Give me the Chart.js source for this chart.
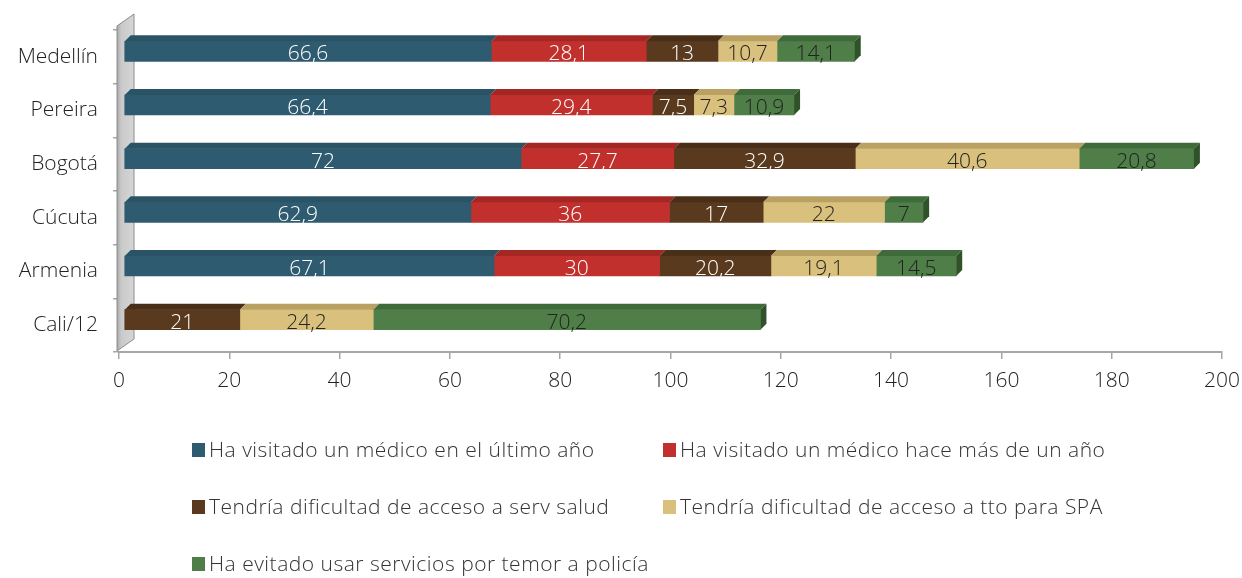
<!DOCTYPE html>
<html>
<head>
<meta charset="utf-8">
<script src="https://cdn.jsdelivr.net/npm/chart.js@4/dist/chart.umd.min.js"></script>
<style>
  body { margin: 0; background: #fff; }
  #grafico { display: block; }
</style>
</head>
<body>
<canvas id="grafico" width="1242" height="578"></canvas>
<script>
// ========== data ==========
const ciudades = ['Medellín', 'Pereira', 'Bogotá', 'Cúcuta', 'Armenia', 'Cali/12']
const series = [
  'Ha visitado un médico en el último año',
  'Ha visitado un médico hace más de un año',
  'Tendría dificultad de acceso a serv salud',
  'Tendría dificultad de acceso a tto para SPA',
  'Ha evitado usar servicios por temor a policía'
]
const medicoUltimoAnio = [66.6, 66.4, 72, 62.9, 67.1, null]
const medicoMasDeUnAnio = [28.1, 29.4, 27.7, 36, 30, null]
const dificultadSalud = [13, 7.5, 32.9, 17, 20.2, 21]
const dificultadSPA = [10.7, 7.3, 40.6, 22, 19.1, 24.2]
const temorPolicia = [14.1, 10.9, 20.8, 7, 14.5, 70.2]
const ejeX = { min: 0, max: 200, paso: 20 }

// front / top / side shades and label colour for each series
const estilos = [
  { frente: '#2e5b6f', arriba: '#2a5466', lado: '#224656', texto: '#ffffff' },
  { frente: '#c1302d', arriba: '#a52724', lado: '#8a1f1d', texto: '#ffffff' },
  { frente: '#5a3a1e', arriba: '#4a2f18', lado: '#3c2613', texto: '#ffffff' },
  { frente: '#d9c07c', arriba: '#b9a164', lado: '#9e8852', texto: '#222222' },
  { frente: '#4f7e48', arriba: '#3f6a39', lado: '#2f5229', texto: '#222222' }
]
const valores = [medicoUltimoAnio, medicoMasDeUnAnio, dificultadSalud, dificultadSPA, temorPolicia]

const FUENTE = '"Open Sans", Lato, sans-serif'
const TAM = 21
const PROF = 6          // bar depth in px
const DESPL = { x: 5, y: -5.5 }  // bars sit half way into the 3d floor

function formato(v) {
  return String(v).replace('.', ',')
}

// ========== 3d wall behind the category axis ==========
const pared = {
  id: 'pared',
  beforeDatasetsDraw(chart) {
    const { ctx, chartArea } = chart
    const l = chartArea.left - 2, t = chartArea.top, b = chartArea.bottom
    ctx.save()
    const g = ctx.createLinearGradient(l, 0, l + 17, 0)
    g.addColorStop(0, '#a9a9a9')
    g.addColorStop(0.25, '#c9c9c9')
    g.addColorStop(1, '#d6d6d6')
    ctx.beginPath()
    ctx.moveTo(l, t - 4)
    ctx.lineTo(l + 17, t - 16)
    ctx.lineTo(l + 17, b - 13)
    ctx.lineTo(l, b - 1)
    ctx.closePath()
    ctx.fillStyle = g
    ctx.fill()
    ctx.strokeStyle = '#8c8c8c'
    ctx.lineWidth = 1
    ctx.stroke()
    ctx.restore()
    // shift the bar layer for the depth effect
    ctx.save()
    ctx.translate(DESPL.x, DESPL.y)
  },
  afterDatasetsDraw(chart) {
    const ctx = chart.ctx
    const ultimo = {}
    // top faces
    chart.data.datasets.forEach((ds, i) => {
      chart.getDatasetMeta(i).data.forEach((bar, j) => {
        if (!ds.data[j]) return
        const p = bar.getProps(['x', 'y', 'base', 'height'], true)
        const arriba = p.y - p.height / 2
        ctx.beginPath()
        ctx.moveTo(p.base, arriba)
        ctx.lineTo(p.base + PROF, arriba - PROF)
        ctx.lineTo(p.x + PROF, arriba - PROF)
        ctx.lineTo(p.x, arriba)
        ctx.closePath()
        ctx.fillStyle = estilos[i].arriba
        ctx.fill()
        ultimo[j] = { p, i }
      })
    })
    // side face only on the last segment of each row
    Object.values(ultimo).forEach(({ p, i }) => {
      const arriba = p.y - p.height / 2, abajo = p.y + p.height / 2
      ctx.beginPath()
      ctx.moveTo(p.x, arriba)
      ctx.lineTo(p.x + PROF, arriba - PROF)
      ctx.lineTo(p.x + PROF, abajo - PROF)
      ctx.lineTo(p.x, abajo)
      ctx.closePath()
      ctx.fillStyle = estilos[i].lado
      ctx.fill()
    })
    // value labels
    ctx.font = '300 ' + TAM + 'px ' + FUENTE
    ctx.textAlign = 'center'
    ctx.textBaseline = 'middle'
    chart.data.datasets.forEach((ds, i) => {
      chart.getDatasetMeta(i).data.forEach((bar, j) => {
        if (!ds.data[j]) return
        const p = bar.getProps(['x', 'y', 'base'], true)
        ctx.fillStyle = estilos[i].texto
        ctx.fillText(formato(ds.data[j]), (p.x + p.base) / 2, p.y + 3)
      })
    })
    ctx.restore()
  }
}

// ========== legend in two columns ==========
const leyenda = {
  id: 'leyenda',
  afterDraw(chart) {
    const ctx = chart.ctx
    const columnas = [192, 663]
    const filas = [450, 507, 564]
    ctx.save()
    ctx.font = '300 ' + TAM + 'px ' + FUENTE
    ctx.letterSpacing = '0.5px'
    ctx.textAlign = 'left'
    ctx.textBaseline = 'middle'
    chart.data.datasets.forEach((ds, i) => {
      const x = columnas[i % 2], y = filas[Math.floor(i / 2)]
      ctx.fillStyle = estilos[i].frente
      ctx.fillRect(x, y - 7, 13, 14)
      ctx.fillStyle = '#333'
      ctx.fillText(ds.label, x + 17, y + 1)
    })
    ctx.restore()
  }
}

Chart.defaults.font.family = FUENTE
Chart.defaults.font.size = TAM
Chart.defaults.font.weight = 300
Chart.defaults.color = '#222'

new Chart(document.getElementById('grafico'), {
  type: 'bar',
  data: {
    labels: ciudades,
    datasets: series.map((nombre, i) => ({
      label: nombre,
      data: valores[i],
      backgroundColor: estilos[i].frente,
      borderWidth: 0,
      barThickness: 20
    }))
  },
  options: {
    indexAxis: 'y',
    responsive: false,
    maintainAspectRatio: false,
    animation: false,
    layout: { padding: { top: 30, right: 20, bottom: 186, left: 0 } },
    plugins: {
      legend: { display: false },
      tooltip: { enabled: false }
    },
    scales: {
      x: {
        stacked: true,
        min: ejeX.min,
        max: ejeX.max,
        ticks: { stepSize: ejeX.paso, padding: 9, maxRotation: 0 },
        grid: { drawOnChartArea: false, tickLength: 7, color: '#a6a6a6', lineWidth: 1.5 },
        border: { color: '#a6a6a6', width: 2 },
        afterFit(scale) {
          scale.height = 40
          scale.paddingRight = 0
        }
      },
      y: {
        stacked: true,
        ticks: { padding: 15 },
        grid: { drawOnChartArea: false, tickLength: 6, color: '#a6a6a6', lineWidth: 1.5 },
        border: { display: false },
        afterFit(scale) { scale.width = 119 }
      }
    }
  },
  plugins: [pared, leyenda]
})
</script>
</body>
</html>
